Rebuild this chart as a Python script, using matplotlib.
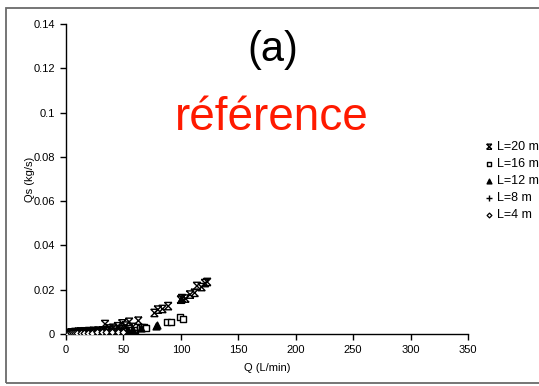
import numpy as np
import matplotlib
matplotlib.use("Agg")
import matplotlib.pyplot as plt
from matplotlib.path import Path
from matplotlib.patches import Rectangle

plt.rcParams["font.family"] = ["Liberation Sans", "DejaVu Sans"]

# Q (L/min) and Qs (kg/s), one pair of lists per length
q_20 = [1, 2, 4, 5, 7, 8, 10, 11, 13, 14, 16, 18, 20, 22, 24, 26, 28, 30, 32, 34, 36, 38,
        41, 43, 45, 47, 49, 52, 55, 58, 63, 77, 80, 84, 89, 100, 101, 104, 108, 112, 114,
        118, 121, 123]
qs_20 = [0.0003, 0.0005, 0.0004, 0.0007, 0.0006, 0.0009, 0.0008, 0.001, 0.0011, 0.0009, 0.0012,
         0.001, 0.0013, 0.0012, 0.0014, 0.0012, 0.0015, 0.0013, 0.0016, 0.0045, 0.0018, 0.0025,
         0.0028, 0.002, 0.0035, 0.0022, 0.0048, 0.0038, 0.0055, 0.0032, 0.006, 0.0095, 0.011,
         0.0113, 0.0126, 0.0155, 0.0162, 0.016, 0.0178, 0.0186, 0.0217, 0.0212, 0.023, 0.0235]

q_16 = [1, 3, 5, 8, 10, 13, 16, 19, 22, 25, 29, 33, 37, 42, 46, 50, 55, 60, 64, 66, 68, 70,
        88, 91, 99, 102]
qs_16 = [0.0002, 0.0003, 0.0004, 0.0005, 0.0004, 0.0006, 0.0007, 0.0006, 0.0008, 0.0009, 0.0008,
         0.001, 0.0011, 0.0012, 0.0013, 0.0015, 0.0016, 0.0018, 0.0025, 0.003, 0.0032, 0.0028,
         0.0053, 0.0055, 0.0078, 0.007]

q_12 = [1, 3, 6, 9, 12, 15, 18, 21, 25, 29, 33, 37, 42, 46, 50, 54, 58, 65, 78, 79, 100]
qs_12 = [0.0002, 0.0003, 0.0004, 0.0005, 0.0006, 0.0007, 0.0006, 0.0008, 0.0009, 0.0008, 0.001,
         0.0011, 0.0012, 0.0013, 0.0014, 0.0016, 0.0018, 0.0025, 0.0035, 0.004, 0.0158]

q_8 = [1, 3, 5, 7, 9, 12, 15, 18, 21, 24, 27, 31, 35, 39, 44, 48, 53, 57, 62]
qs_8 = [0.0002, 0.0003, 0.0004, 0.0004, 0.0005, 0.0006, 0.0007, 0.0007, 0.0008, 0.0009, 0.0009,
        0.001, 0.0011, 0.0012, 0.0013, 0.0014, 0.0016, 0.0017, 0.0019]

q_4 = [1, 2, 4, 6, 8, 10, 13, 16, 19, 23, 27, 31, 35, 40, 45, 50]
qs_4 = [0.0001, 0.0002, 0.0003, 0.0003, 0.0004, 0.0004, 0.0005, 0.0005, 0.0006, 0.0006, 0.0007,
        0.0007, 0.0008, 0.0009, 0.001, 0.0011]

labels = ["L=20 m", "L=16 m", "L=12 m", "L=8 m", "L=4 m"]
x_ticks = [0, 50, 100, 150, 200, 250, 300, 350]
y_ticks = [0, 0.02, 0.04, 0.06, 0.08, 0.1, 0.12, 0.14]
y_ticklabels = ["0", "0.02", "0.04", "0.06", "0.08", "0.1", "0.12", "0.14"]

# x marker with bars on top and bottom, like the spreadsheet one
star_x = Path([(-1, -1), (1, 1), (-1, 1), (1, -1), (-1, 1), (1, 1), (-1, -1), (1, -1)],
              [Path.MOVETO, Path.LINETO] * 4)

W, H = 539, 386
fig = plt.figure(figsize=(W / 100, H / 100), dpi=100)
fig.patch.set_facecolor("white")

# outer chart frame, runs off the right edge
fig.patches.append(Rectangle((6 / W, 3 / H), 1.2, (H - 11) / H, transform=fig.transFigure,
                             fill=False, edgecolor="#6a6a6a", linewidth=1.3))

ax = fig.add_axes([66 / W, (H - 334) / H, (468 - 66) / W, (334 - 24) / H])

ax.scatter(q_20, qs_20, marker=star_x, s=28, facecolor="none", edgecolor="black",
           linewidths=1.0, label=labels[0], zorder=3)
ax.scatter(q_16, qs_16, marker="s", s=20, facecolor="white", edgecolor="black",
           linewidths=1.0, label=labels[1], zorder=3)
ax.scatter(q_12, qs_12, marker="^", s=24, color="black", label=labels[2], zorder=3)
ax.scatter(q_8, qs_8, marker="+", s=28, color="black", linewidths=1.0, label=labels[3], zorder=3)
ax.scatter(q_4, qs_4, marker="D", s=12, facecolor="white", edgecolor="black",
           linewidths=0.9, label=labels[4], zorder=3)

ax.set_xlim(0, 350)
ax.set_ylim(0, 0.14)
ax.set_xticks(x_ticks)
ax.set_yticks(y_ticks)
ax.set_yticklabels(y_ticklabels)
ax.spines["top"].set_visible(False)
ax.spines["right"].set_visible(False)
for s in ("left", "bottom"):
    ax.spines[s].set_linewidth(1.0)
ax.tick_params(direction="out", length=4, width=1.0, labelsize=8, pad=4)
ax.set_xlabel("Q (L/min)", fontsize=8, labelpad=6)
ax.set_ylabel("Qs (kg/s)", fontsize=8, labelpad=-1)

fig.text(273 / W, 1 - 50 / H, "(a)", fontsize=30, ha="center", va="center", color="black")
fig.text(272 / W, 1 - 118 / H, "référence", fontsize=33, ha="center", va="center",
         color="#ff1a00")

leg = ax.legend(loc="upper left", bbox_to_anchor=(483 / W, 1 - 141 / H),
                bbox_transform=fig.transFigure, frameon=False, fontsize=9,
                handletextpad=0.15, labelspacing=0.4, handlelength=1.0,
                borderaxespad=0, borderpad=0, scatterpoints=1, markerscale=0.7)

fig.savefig("out.png", dpi=100)
